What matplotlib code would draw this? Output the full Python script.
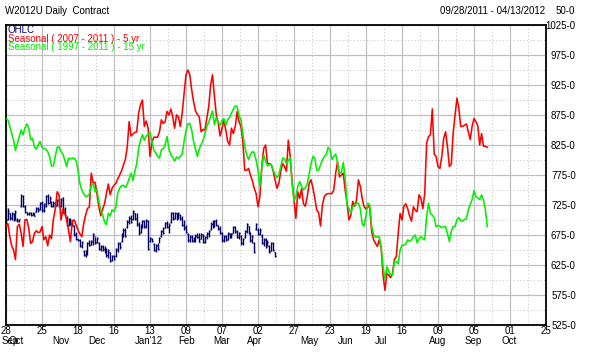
import matplotlib
matplotlib.use("Agg")
import matplotlib.pyplot as plt
import matplotlib.transforms as mtransforms
import numpy as np

plt.rcParams['font.family'] = ['Liberation Sans', 'DejaVu Sans']

# W2012U daily bars, one per trading day starting 09/28/2011
ohlc_open = [718, 702, 712, 703, 710, 702, 700, 699, 724, 740, 722, 713, 710, 711, 709, 711, 714, 719, 718, 728,
             716, 724, 740, 729, 730, 724, 728, 725, 734, 724, 736, 718, 704, 692, 700, 695, 690, 676, 668, 666,
             657, 648, 642, 646, 662, 659, 664, 674, 663, 662, 652, 655, 651, 648, 641, 646, 633, 640, 640, 650,
             660, 665, 675, 684, 688, 697, 704, 702, 712, 704, 694, 680, 690, 698, 690, 698, 665, 669, 660, 650,
             657, 662, 673, 682, 687, 695, 688, 697, 711, 703, 711, 703, 709, 704, 692, 688, 676, 666, 672, 666,
             669, 674, 671, 669, 675, 664, 671, 677, 685, 694, 689, 698, 691, 686, 678, 666, 672, 668, 677, 672,
             679, 688, 681, 672, 674, 661, 671, 681, 690, 678, 667, 662, 685, 684, 677, 674, 662, 667, 657, 656,
             648, 661, 646]
ohlc_high = [720, 720, 712, 714, 712, 716, 703, 702, 744, 742, 725, 714, 714, 713, 714, 712, 722, 722, 730, 731,
             728, 742, 743, 740, 731, 731, 730, 735, 736, 736, 739, 722, 706, 703, 703, 700, 692, 680, 668, 668,
             665, 650, 650, 664, 667, 667, 678, 672, 672, 664, 658, 659, 656, 653, 652, 647, 642, 642, 653, 664,
             664, 678, 686, 686, 700, 706, 708, 717, 712, 711, 697, 694, 700, 700, 702, 700, 672, 670, 662, 660,
             662, 672, 684, 688, 697, 698, 695, 713, 714, 714, 712, 714, 710, 706, 700, 692, 678, 675, 675, 672,
             676, 678, 678, 678, 676, 674, 680, 683, 696, 700, 700, 701, 692, 690, 680, 675, 675, 680, 678, 678,
             690, 690, 684, 680, 675, 670, 683, 695, 690, 680, 675, 663, 695, 686, 686, 676, 670, 670, 666, 658,
             664, 664, 647]
ohlc_low = [695, 700, 700, 700, 698, 700, 697, 697, 722, 722, 712, 708, 708, 707, 708, 706, 713, 713, 717, 714,
            714, 722, 726, 728, 722, 722, 722, 723, 722, 722, 711, 706, 690, 690, 692, 690, 673, 667, 665, 655,
            653, 640, 639, 642, 656, 658, 658, 660, 662, 650, 648, 649, 645, 639, 637, 630, 631, 633, 639, 647,
            652, 664, 672, 672, 686, 694, 695, 700, 700, 690, 675, 678, 686, 687, 687, 650, 663, 664, 648, 647,
            650, 661, 672, 677, 686, 686, 678, 695, 700, 702, 700, 702, 700, 690, 684, 678, 664, 664, 663, 664,
            664, 670, 663, 668, 662, 662, 668, 672, 684, 686, 688, 690, 683, 676, 664, 664, 665, 667, 670, 670,
            678, 678, 670, 668, 659, 659, 670, 678, 676, 664, 661, 645, 683, 675, 675, 660, 656, 653, 657, 645,
            648, 648, 638]
ohlc_close = [700, 715, 703, 712, 700, 714, 700, 701, 740, 724, 713, 710, 712, 709, 712, 707, 720, 716, 728, 716,
              726, 740, 728, 736, 724, 729, 724, 733, 724, 734, 712, 708, 692, 700, 694, 692, 675, 668, 666, 657,
              663, 642, 648, 662, 658, 665, 676, 662, 670, 652, 656, 651, 647, 641, 650, 632, 640, 635, 651, 662,
              655, 676, 684, 674, 698, 704, 697, 715, 702, 692, 678, 692, 698, 689, 700, 652, 670, 665, 650, 658,
              652, 670, 682, 679, 695, 688, 692, 711, 702, 712, 702, 712, 702, 692, 686, 680, 666, 673, 665, 670,
              674, 671, 664, 676, 664, 672, 678, 681, 694, 688, 698, 692, 685, 678, 666, 673, 667, 678, 672, 676,
              688, 680, 672, 678, 661, 668, 681, 693, 678, 666, 673, 647, 693, 677, 684, 662, 668, 655, 664, 647,
              662, 650, 640]

# seasonal averages, one value per trading day
seas_5yr = [690, 694, 672, 657, 650, 634, 689, 693, 678, 656, 700, 701, 686, 661, 664, 678, 682, 679, 680, 689,
            667, 672, 657, 675, 669, 701, 718, 747, 742, 700, 718, 712, 700, 683, 664, 699, 700, 692, 683, 677,
            672, 694, 708, 719, 722, 778, 762, 763, 744, 722, 707, 718, 727, 744, 760, 742, 753, 758, 761, 769,
            775, 782, 792, 801, 822, 864, 840, 843, 846, 847, 878, 892, 900, 856, 865, 853, 806, 829, 838, 838,
            838, 847, 867, 861, 864, 881, 875, 885, 872, 853, 875, 872, 856, 878, 911, 942, 950, 942, 917, 897,
            882, 876, 872, 847, 851, 850, 869, 889, 925, 942, 906, 875, 862, 840, 853, 866, 850, 831, 825, 853,
            844, 856, 881, 864, 856, 830, 783, 783, 786, 775, 766, 753, 744, 722, 739, 789, 819, 825, 794, 794,
            792, 782, 767, 753, 761, 781, 794, 789, 781, 833, 806, 764, 734, 703, 747, 736, 752, 727, 723, 739,
            761, 767, 753, 736, 717, 712, 690, 725, 739, 743, 744, 744, 744, 750, 778, 797, 772, 775, 778, 750,
            728, 700, 708, 731, 723, 733, 767, 756, 736, 722, 718, 725, 719, 681, 667, 661, 656, 667, 653, 608,
            583, 611, 608, 604, 611, 634, 639, 678, 711, 700, 723, 727, 719, 707, 698, 722, 716, 714, 742, 736,
            719, 744, 828, 839, 842, 885, 810, 806, 789, 786, 806, 836, 847, 822, 789, 793, 844, 875, 903, 886,
            856, 856, 858, 860, 847, 834, 856, 869, 864, 857, 825, 844, 823, 823, 821]
seas_15yr = [869, 867, 856, 844, 833, 816, 827, 839, 850, 842, 853, 860, 853, 834, 836, 822, 818, 825, 831, 821,
             819, 818, 814, 806, 790, 790, 806, 821, 822, 814, 810, 800, 789, 803, 802, 803, 803, 799, 783, 761,
             750, 744, 739, 740, 743, 757, 761, 747, 750, 731, 717, 708, 697, 692, 711, 707, 717, 714, 722, 745,
             753, 757, 758, 754, 760, 769, 778, 766, 781, 794, 819, 833, 842, 833, 840, 843, 846, 831, 816, 812,
             806, 803, 817, 819, 826, 839, 818, 809, 804, 798, 805, 803, 806, 810, 831, 849, 860, 861, 850, 831,
             818, 806, 818, 826, 832, 844, 856, 863, 872, 882, 859, 871, 862, 858, 866, 869, 858, 867, 871, 878,
             885, 890, 889, 874, 867, 843, 823, 809, 801, 809, 814, 812, 800, 783, 757, 786, 808, 798, 790, 792,
             793, 783, 776, 771, 775, 789, 803, 802, 794, 799, 804, 761, 732, 739, 756, 764, 756, 750, 754, 760,
             777, 794, 806, 803, 783, 783, 792, 800, 806, 809, 821, 817, 801, 806, 810, 794, 778, 779, 796, 772,
             725, 719, 711, 722, 725, 728, 728, 719, 693, 690, 708, 728, 725, 689, 676, 671, 672, 672, 656, 622,
             601, 622, 615, 608, 608, 631, 631, 627, 650, 658, 658, 660, 667, 664, 667, 672, 675, 662, 669, 672,
             669, 667, 706, 728, 711, 708, 704, 689, 691, 690, 687, 689, 689, 677, 664, 681, 689, 689, 701, 704,
             699, 698, 701, 702, 717, 726, 734, 749, 739, 737, 734, 742, 733, 718, 689]

tick_days = list(range(0, 286, 19))
tick_labels = ["28", "25", "18", "16", "13", "09", "07", "02", "27", "23", "19", "16", "09", "05", "01", "25"]
month_labels = ["Sep", "Oct", "Nov", "Dec", "Jan'12", "Feb", "Mar", "Apr", "May", "Jun", "Jul", "Aug", "Sep", "Oct"]
month_days = [-2.1, 1.1, 24.3, 43.3, 68.1, 90.8, 109.2, 127.2, 155.1, 175.2, 194.7, 223.2, 242.2, 261.7]
price_ticks = list(range(525, 1026, 50))

navy = "#000066"
red = "#ff0000"
green = "#00f000"
grid_c = "#c0c0c0"

fig = plt.figure(figsize=(5.95, 3.55), dpi=100)
ax = fig.add_axes([6 / 595, 30 / 355, 540 / 595, 300 / 355])

# grid: solid at the labelled ticks, dotted half way between
for d in tick_days:
    ax.axvline(d, color=grid_c, lw=0.9, zorder=0)
for d in tick_days[:-1]:
    ax.axvline(d + 9.5, color=grid_c, lw=0.7, ls=(0, (1, 2.5)), zorder=0)
for p in price_ticks:
    ax.axhline(p, color=grid_c, lw=0.9, zorder=0)
    ax.axhline(p + 25, color=grid_c, lw=0.7, ls=(0, (1, 2.5)), zorder=0)

# OHLC bars
x = np.arange(len(ohlc_close))
ax.vlines(x, ohlc_low, ohlc_high, color=navy, lw=1.0, zorder=2)
ax.hlines(ohlc_open, x - 0.5, x, color=navy, lw=1.0, zorder=2)
ax.hlines(ohlc_close, x, x + 0.5, color=navy, lw=1.0, zorder=2)

# seasonal lines
ax.plot(np.arange(len(seas_5yr)), seas_5yr, color=red, lw=1.15, zorder=3)
ax.plot(np.arange(len(seas_15yr)), seas_15yr, color=green, lw=1.15, zorder=4)

ax.set_xlim(0, 285)
ax.set_ylim(525, 1025)

ax.set_xticks(tick_days)
ax.set_xticklabels(tick_labels, fontsize=7)
ax.tick_params(axis="x", length=0, pad=1)

ax.yaxis.tick_right()
ax.set_yticks(price_ticks)
ax.set_yticklabels([f"{p}-0" for p in price_ticks], fontsize=7, ha="right")
ax.tick_params(axis="y", length=0, pad=21.5)

for s in ax.spines.values():
    s.set_color("black")
    s.set_linewidth(1.3)

# month names under the day numbers
trans = mtransforms.blended_transform_factory(ax.transData, ax.transAxes)
for d, m in zip(month_days, month_labels):
    ax.text(d, -0.037, m, transform=trans, fontsize=7, ha="left", va="top", clip_on=False)

# legend lines inside the plot
ax.text(2 / 540, 1 - 5 / 300, "OHLC", transform=ax.transAxes, fontsize=7, color=navy, va="center")
ax.text(2 / 540, 1 - 13.5 / 300, "Seasonal ( 2007 - 2011 ) - 5 yr", transform=ax.transAxes,
        fontsize=7, color=red, va="center")
ax.text(2 / 540, 1 - 22 / 300, "Seasonal ( 1997 - 2011 ) - 15 yr", transform=ax.transAxes,
        fontsize=7, color=green, va="center")

# header
fig.text(5 / 595, 1 - 11 / 355, "W2012U Daily  Contract", fontsize=7, va="center")
fig.text(545 / 595, 1 - 11 / 355, "09/28/2011 - 04/13/2012", fontsize=7, va="center", ha="right")
fig.text(575 / 595, 1 - 11 / 355, "50-0", fontsize=7, va="center", ha="right")

fig.savefig("out.png", dpi=100)
